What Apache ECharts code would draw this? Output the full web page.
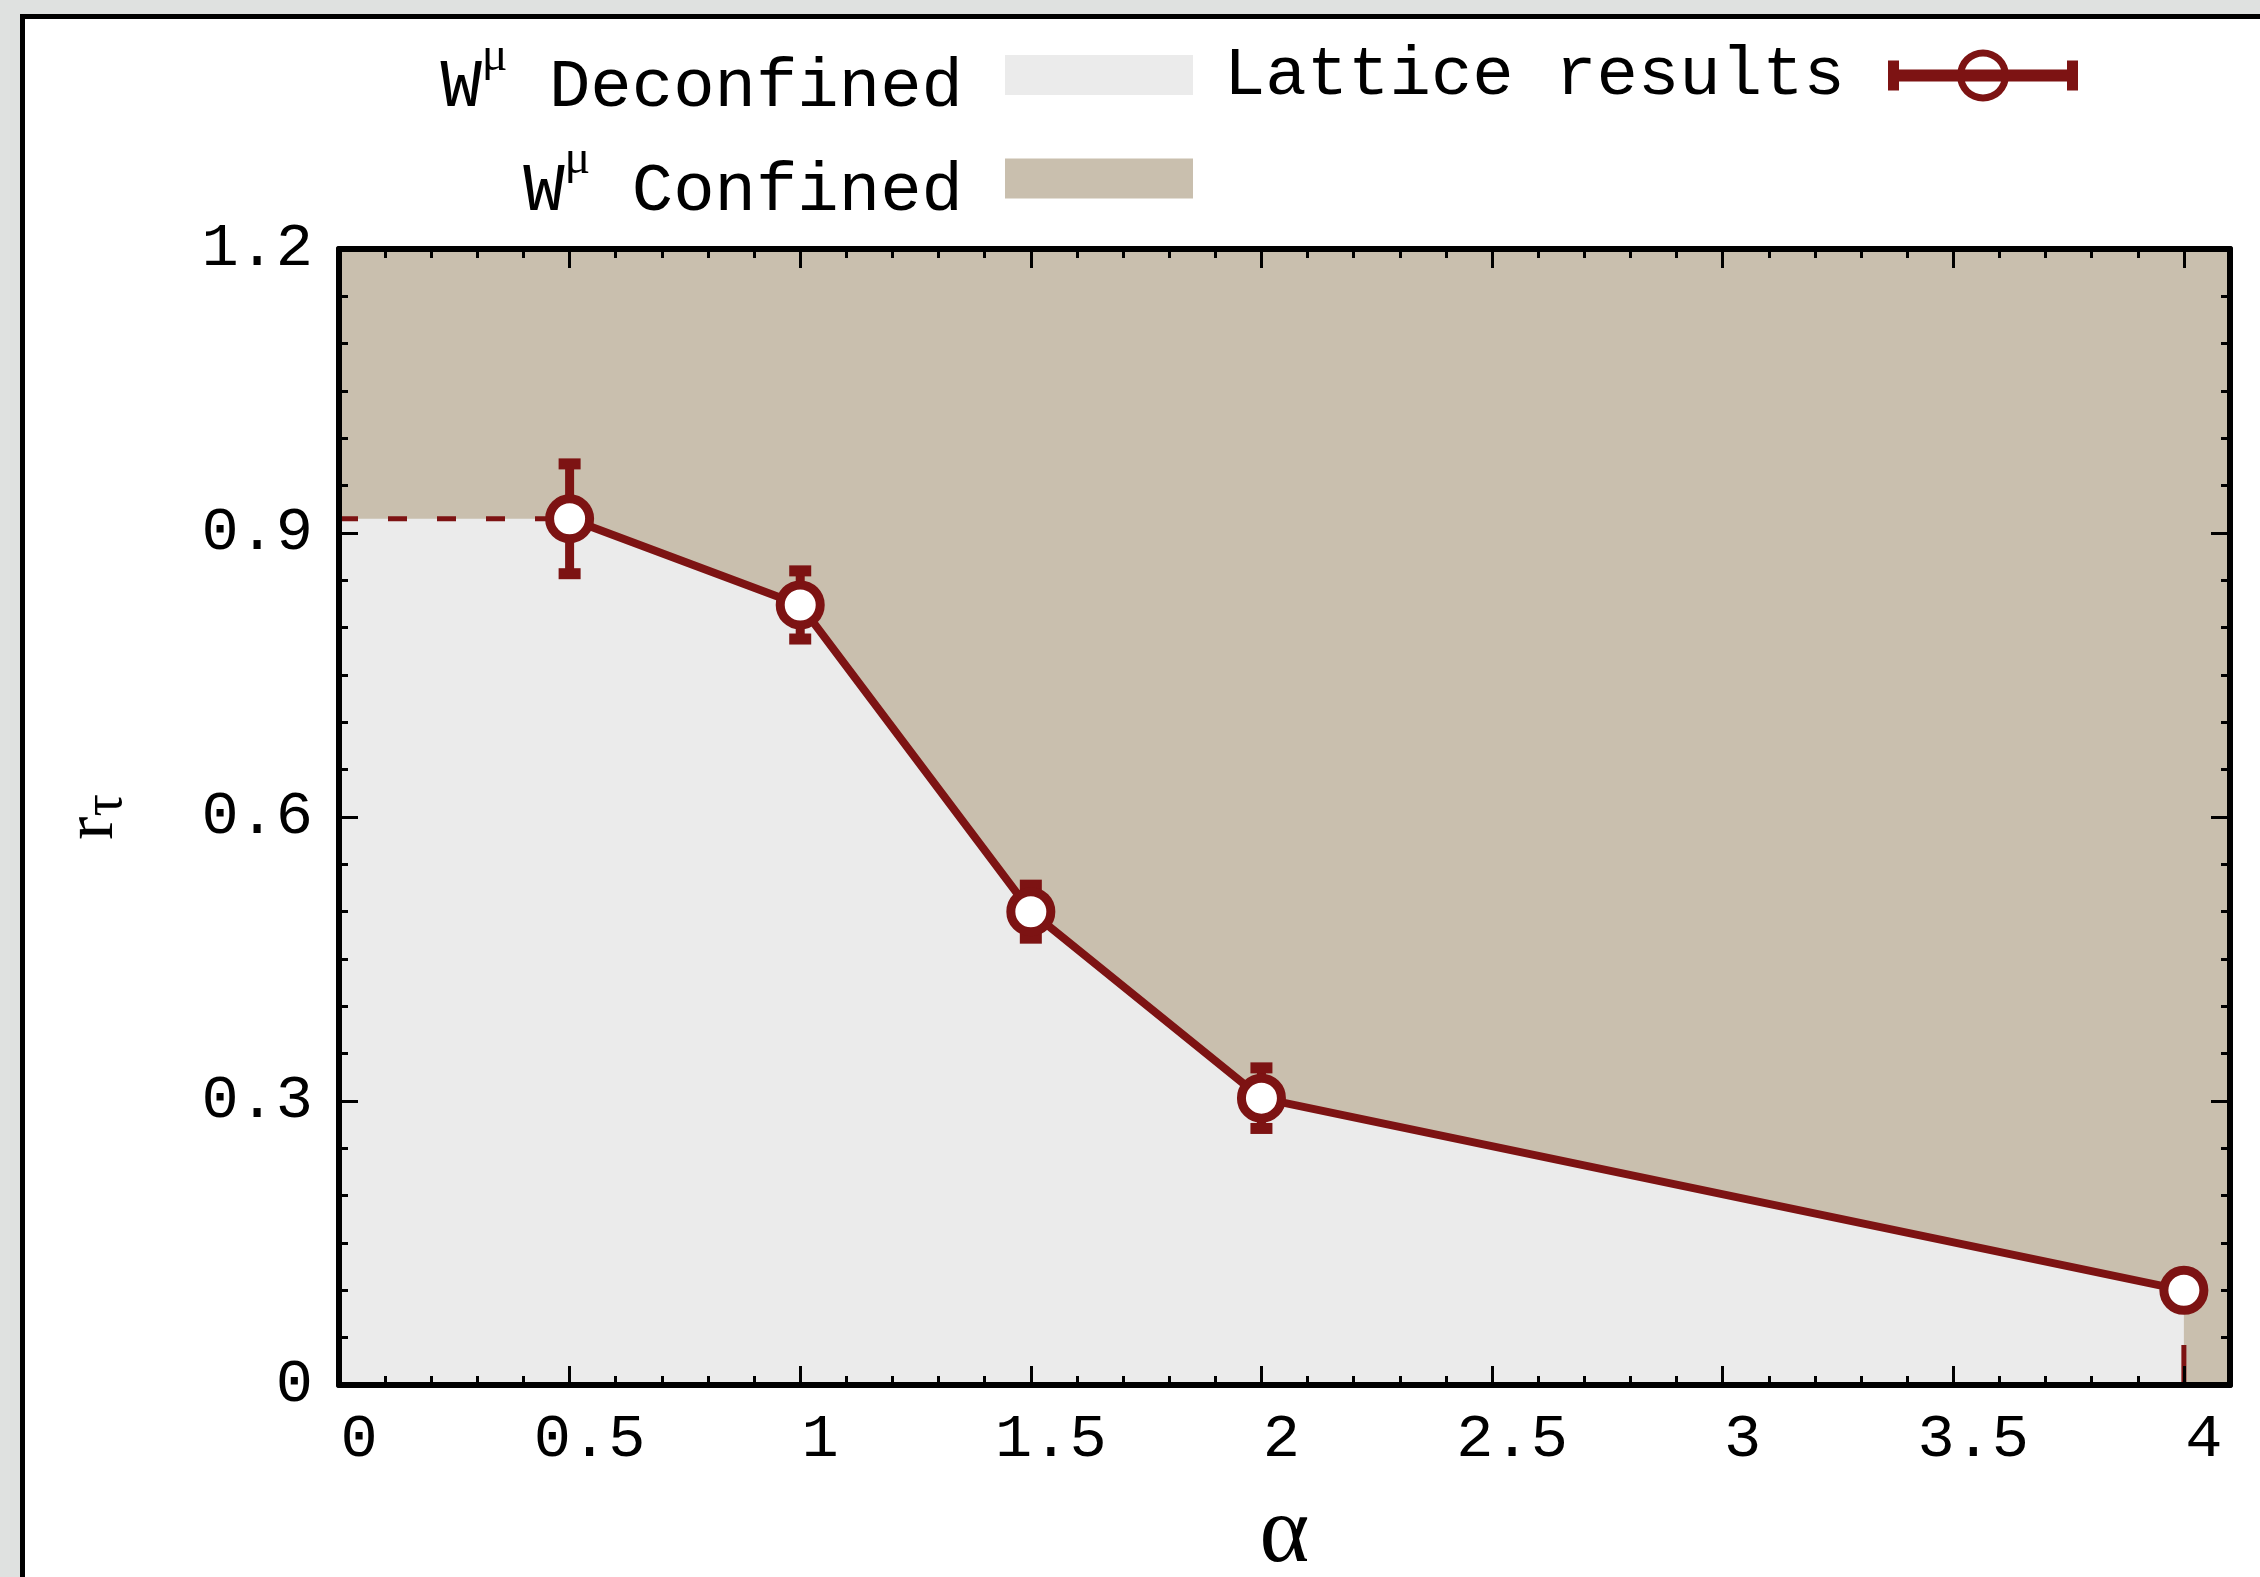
<!DOCTYPE html>
<html>
<head>
<meta charset="utf-8">
<script src="https://cdn.jsdelivr.net/npm/echarts@6/dist/echarts.min.js"></script>
<style>
html,body{margin:0;padding:0;background:#dfe1e0;width:2260px;height:1577px;overflow:hidden;}
#frame{position:absolute;left:20px;top:14px;width:2235px;height:1558px;border-left:5px solid #000;border-top:5px solid #000;background:#fff;}
#chart{width:2235px;height:1558px;}
</style>
</head>
<body>
<div id="frame"><div id="chart"></div></div>
<script>
// ---- data ----
const alpha = [0.5, 1, 1.5, 2, 4];
const rTau = [0.915, 0.824, 0.5, 0.303, 0.1];
const rErr = [0.058, 0.036, 0.028, 0.032, 0];
const xTicks = [0, 0.5, 1, 1.5, 2, 2.5, 3, 3.5, 4];
const yTicks = [0, 0.3, 0.6, 0.9, 1.2];
const seriesNames = ['Deconfined', 'Confined', 'Lattice results'];

const RED = '#7d1313';
const BEIGE = '#c9bfae';
const LIGHT = '#ebebeb';
const MONO = '"Liberation Mono", "DejaVu Sans Mono", monospace';
const SERIF = '"Liberation Serif", "DejaVu Serif", serif';
const X_MIN = 0, X_MAX = 4.1, Y_MIN = 0, Y_MAX = 1.2;

const points = alpha.map((a, i) => [a, rTau[i]]);
const boundary = [[xTicks[0], rTau[0]]].concat(points);
const errData = alpha.map((a, i) => [a, rTau[i] - rErr[i], rTau[i] + rErr[i]]);
const confinedData = [[X_MIN, Y_MAX], [X_MAX, Y_MAX]];
const hGuide = [[xTicks[0], rTau[0]], [alpha[0], rTau[0]]];
const vGuide = [[alpha[alpha.length - 1], Y_MIN], [alpha[alpha.length - 1], rTau[rTau.length - 1]]];

const isTick = (v, list) => list.some(t => Math.abs(t - v) < 1e-6);

function xAxisDef(pos, interval, len, showLine, showLabel) {
  return {
    type: 'value', position: pos, min: X_MIN, max: X_MAX, interval: interval, z: 10,
    axisLine: {show: showLine, onZero: false, lineStyle: {color: '#000', width: 6}},
    axisTick: {show: true, inside: true, length: len, lineStyle: {color: '#000', width: 3}},
    splitLine: {show: false},
    axisLabel: showLabel ? {
      show: true, margin: 24, fontFamily: MONO, fontSize: 62, color: '#000',
      padding: [0, 0, 0, 40], showMaxLabel: false,
      formatter: v => isTick(v, xTicks) ? String(+v.toFixed(2)) : ''
    } : {show: false},
    name: showLabel ? 'α' : '', nameLocation: 'middle', nameGap: 104,
    nameTextStyle: {fontFamily: SERIF, fontSize: 95, color: '#000'}
  };
}
function yAxisDef(pos, interval, len, showLine, showLabel) {
  return {
    type: 'value', position: pos, min: Y_MIN, max: Y_MAX, interval: interval, z: 10,
    axisLine: {show: showLine, onZero: false, lineStyle: {color: '#000', width: 6}},
    axisTick: {show: true, inside: true, length: len, lineStyle: {color: '#000', width: 3}},
    splitLine: {show: false},
    axisLabel: showLabel ? {
      show: true, margin: 26, fontFamily: MONO, fontSize: 62, color: '#000',
      padding: [8, 0, 0, 0],
      formatter: v => isTick(v, yTicks) ? String(+v.toFixed(2)) : ''
    } : {show: false},
    name: showLabel ? '{r|r}{t|τ}' : '', nameLocation: 'middle', nameGap: 205, nameRotate: 90,
    nameTextStyle: {
      color: '#000',
      rich: {
        r: {fontFamily: SERIF, fontSize: 70, lineHeight: 80, color: '#000'},
        t: {fontFamily: SERIF, fontSize: 56, lineHeight: 60, verticalAlign: 'bottom', color: '#000'}
      }
    }
  };
}

const legendRich = {
  b: {fontFamily: MONO, fontSize: 69, lineHeight: 110, color: '#000'},
  s: {fontFamily: SERIF, fontSize: 48, lineHeight: 6, verticalAlign: 'top', color: '#000'}
};

const latticeIcon = 'path://M0,11L11,11L11,41L0,41Z M179,11L190,11L190,41L179,41Z M0,20L190,20L190,32L0,32Z ' +
  'M69,26A26,26 0 1,1 121,26A26,26 0 1,1 69,26Z M76,26A19,19 0 1,0 114,26A19,19 0 1,0 76,26Z';

const option = {
  animation: false,
  backgroundColor: '#fff',
  grid: {left: 314, top: 230, right: 30, bottom: 192, containLabel: false, outerBoundsMode: 'none'},
  xAxis: [
    xAxisDef('bottom', 0.5, 19, true, true),
    xAxisDef('bottom', 0.1, 9, false, false),
    xAxisDef('top', 0.5, 19, true, false),
    xAxisDef('top', 0.1, 9, false, false)
  ],
  yAxis: [
    yAxisDef('left', 0.3, 19, true, true),
    yAxisDef('left', 0.05, 9, false, false),
    yAxisDef('right', 0.3, 19, true, false),
    yAxisDef('right', 0.05, 9, false, false)
  ],
  legend: [
    {
      data: [seriesNames[0], seriesNames[1]], orient: 'vertical', align: 'right',
      right: 1067, top: 14, padding: 0, itemGap: 14, itemWidth: 188, itemHeight: 40,
      icon: 'rect', selectedMode: false,
      itemStyle: {borderWidth: 0},
      formatter: name => '{b|W}{s|μ}{b| ' + name + '}',
      textStyle: {padding: [26, 37, 0, 0], rich: legendRich}
    },
    {
      data: [seriesNames[2]], orient: 'horizontal', align: 'right',
      right: 182, top: 7, padding: 0, itemWidth: 190, itemHeight: 52,
      icon: latticeIcon, selectedMode: false,
      itemStyle: {borderWidth: 0, color: RED},
      textStyle: {fontFamily: MONO, fontSize: 69, lineHeight: 69, color: '#000', padding: [30, 38, 0, 0]}
    }
  ],
  series: [
    {
      name: seriesNames[1], type: 'line', data: confinedData, color: BEIGE,
      showSymbol: false, symbol: 'none', lineStyle: {width: 0}, areaStyle: {color: BEIGE, opacity: 1, origin: 'start'},
      silent: true, z: 1
    },
    {
      name: seriesNames[0], type: 'line', data: boundary, color: LIGHT,
      showSymbol: false, symbol: 'none', lineStyle: {width: 0}, areaStyle: {color: LIGHT, opacity: 1, origin: 'start'},
      silent: true, z: 2
    },
    {
      name: 'guideH', type: 'line', data: hGuide, symbol: 'none', silent: true, z: 3,
      lineStyle: {color: RED, width: 5, type: [19, 30]}
    },
    {
      name: 'guideV', type: 'line', data: vGuide, symbol: 'none', silent: true, z: 3,
      lineStyle: {color: RED, width: 5, type: [40, 40]}
    },
    {
      name: 'errors', type: 'custom', data: errData, silent: true, z: 4,
      renderItem: function (params, api) {
        const x = api.value(0), lo = api.value(1), hi = api.value(2);
        if (hi - lo < 1e-9) return null;
        const pHi = api.coord([x, hi]), pLo = api.coord([x, lo]);
        const cw = 11;
        return {
          type: 'group', children: [
            {type: 'line', shape: {x1: pHi[0], y1: pHi[1], x2: pLo[0], y2: pLo[1]}, style: {stroke: RED, lineWidth: 9}},
            {type: 'line', shape: {x1: pHi[0] - cw, y1: pHi[1], x2: pHi[0] + cw, y2: pHi[1]}, style: {stroke: RED, lineWidth: 11}},
            {type: 'line', shape: {x1: pLo[0] - cw, y1: pLo[1], x2: pLo[0] + cw, y2: pLo[1]}, style: {stroke: RED, lineWidth: 11}}
          ]
        };
      }
    },
    {
      name: seriesNames[2], type: 'line', data: points, color: RED, z: 5,
      symbol: 'circle', symbolSize: 40, showAllSymbol: true,
      itemStyle: {color: '#fff', borderColor: RED, borderWidth: 9},
      lineStyle: {color: RED, width: 8}
    }
  ]
};

const chart = echarts.init(document.getElementById('chart'), null, {renderer: 'canvas'});
chart.setOption(option);
</script>
</body>
</html>
